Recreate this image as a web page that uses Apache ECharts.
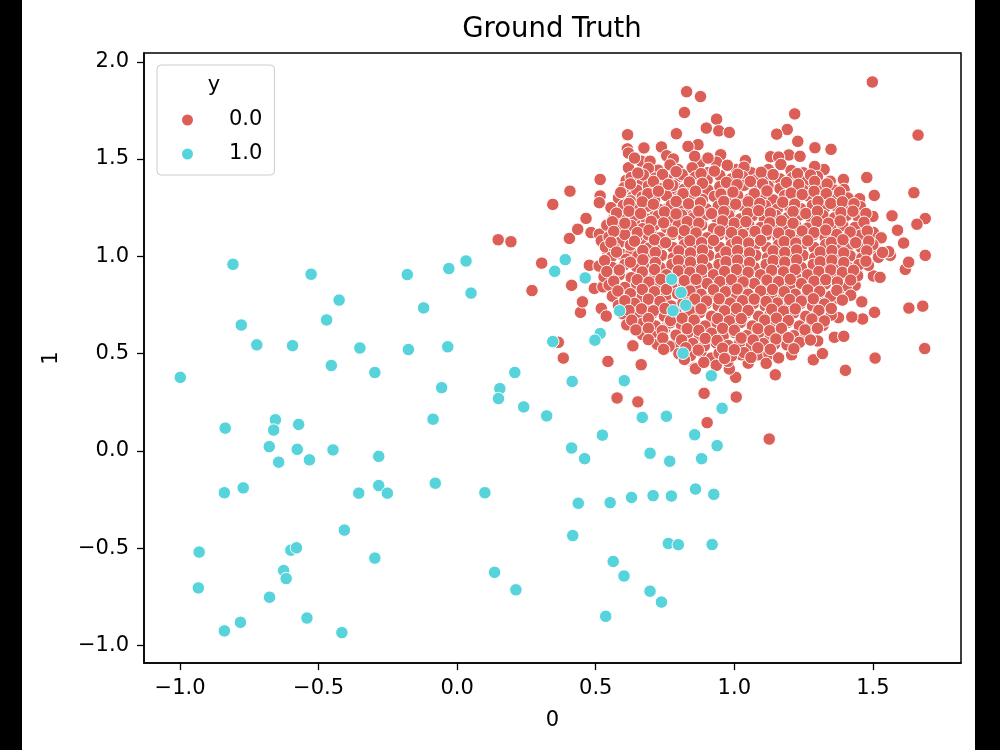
<!DOCTYPE html>
<html>
<head>
<meta charset="utf-8">
<script src="https://cdn.jsdelivr.net/npm/echarts@6/dist/echarts.min.js"></script>
<style>html,body{margin:0;padding:0;background:#fff}#c{width:1000px;height:750px}</style>
</head>
<body>
<div id="c"></div>
<script>
const categories = ['0.0', '1.0'];
const xTicks = [-1.0, -0.5, 0.0, 0.5, 1.0, 1.5];
const yTicks = [-1.0, -0.5, 0.0, 0.5, 1.0, 1.5, 2.0];

const class0Points = [
[0.148,1.085],[0.194,1.075],[0.270,0.824],[0.305,0.965],[0.345,1.267],[0.407,1.335],[0.413,0.851],[0.405,1.092],[0.435,1.139],[0.465,1.195],[0.483,1.122],[0.513,1.114],[0.516,1.395],[0.516,1.310],[0.513,1.276],[0.365,0.558],[0.383,0.477],[0.544,0.460],[0.634,0.540],[0.664,0.443],[0.577,0.272],[0.652,0.252],[0.445,0.712],[0.452,0.766],[0.520,0.732],[0.538,0.693],[0.857,0.426],
[0.891,0.296],[1.007,0.277],[0.902,0.145],[1.126,0.061],[1.005,0.378],[1.148,0.391],[1.401,0.414],[1.508,0.477],[1.687,0.526],[1.630,0.734],[1.680,0.744],[1.506,0.712],[1.463,0.678],[1.424,0.688],[1.285,0.468],[1.318,0.500],[1.361,0.584],[1.395,0.589],[1.301,0.565],[1.207,0.494],[0.860,0.422],[0.982,0.421],[1.050,0.451],[1.086,0.494],[1.617,0.933],[1.629,0.970],[1.689,1.005],[1.502,0.899],[1.526,0.892],[1.484,0.954],[1.563,1.005],[1.436,0.851],[1.382,0.835],[1.376,0.783],[1.460,0.766],
[1.498,1.896],[1.663,1.623],[1.648,1.327],[1.689,1.194],[1.659,1.165],[1.569,1.208],[1.589,1.134],[1.611,1.068],[1.478,1.405],[1.505,1.313],[1.452,1.296],[1.394,1.395],[1.396,1.344],[1.346,1.386],[1.324,1.446],[1.349,1.550],[1.291,1.558],[1.218,1.732],[1.191,1.652],[1.153,1.628],[1.229,1.591],[1.197,1.521],[1.237,1.514],[1.131,1.512],[1.249,1.429],[1.270,1.352],[1.472,1.148],[1.502,1.122],[1.557,1.024],[1.506,1.037],
[0.878,1.821],[0.936,1.705],[0.944,1.645],[0.982,1.637],[0.899,1.659],[0.951,1.522],[0.936,1.484],[0.875,1.480],[0.869,1.574],[1.008,1.446],[1.062,1.429],[1.123,1.446],[1.135,1.403],
[0.828,1.846],[0.820,1.739],[0.791,1.630],[0.615,1.625],[0.614,1.552],[0.618,1.531],[0.674,1.557],[0.737,1.562],[0.756,1.517],[0.664,1.489],[0.696,1.489],[0.618,1.455],[0.725,1.443],[0.797,1.446],[0.803,1.412],[0.833,1.565],[0.857,1.514],[0.610,1.390],[0.640,1.378],[0.661,1.369],[0.731,1.395],[0.791,1.352],[0.821,1.310],[0.634,1.306],[0.700,1.318],[0.746,1.327],[0.582,1.236],[0.604,1.199],[0.640,1.182],[0.520,1.080],[0.544,1.020],[0.586,1.071],[0.592,1.011],[0.628,1.020],[0.664,1.080],[0.712,1.063],[0.755,1.097],[0.700,1.122],[0.712,1.208],[0.749,1.241],[0.785,1.190],[0.833,1.225],[0.712,1.292],[0.773,1.327],[0.833,1.292],[0.845,1.395],[0.869,1.344],
[0.477,0.954],[0.495,0.835],[0.526,0.843],[0.785,0.543],[0.749,0.628],[0.917,0.477],[0.977,0.460],[1.025,0.494],[0.880,0.511],[0.843,0.578],[1.145,0.548],[1.376,0.685],[0.640,1.505],[0.780,1.500],[0.905,1.505],[1.040,1.492],[1.160,1.510],
[0.690,1.452],[0.768,1.470],[0.848,1.455],[0.905,1.430],[0.975,1.468],[1.035,1.458],[1.168,1.472],[1.205,1.441],[1.290,1.462],
[0.628,1.405],[0.672,1.418],[0.715,1.402],[0.758,1.395],[0.812,1.420],[0.860,1.408],[0.902,1.392],[0.948,1.415],[0.990,1.398],[1.030,1.410],[1.078,1.392],[1.118,1.412],[1.165,1.398],[1.210,1.405],[1.255,1.390],[1.300,1.410],
[0.602,1.352],[0.648,1.340],[0.690,1.362],[0.735,1.348],[0.778,1.365],[0.820,1.345],[0.865,1.362],[0.905,1.340],[0.948,1.358],[0.992,1.345],[1.035,1.365],[1.080,1.342],[1.122,1.360],[1.165,1.348],[1.205,1.366],[1.248,1.340],[1.315,1.355],[1.360,1.340],
[0.582,1.300],[0.625,1.285],[0.668,1.305],[0.712,1.290],[0.755,1.312],[0.798,1.296],[0.842,1.310],[0.885,1.292],[0.928,1.308],[0.970,1.290],[1.012,1.312],[1.055,1.295],[1.098,1.306],[1.140,1.290],[1.182,1.312],[1.225,1.298],[1.268,1.310],[1.310,1.292],[1.352,1.305],[1.410,1.300],
[0.555,1.250],[0.600,1.262],[0.645,1.245],[0.688,1.258],[0.730,1.240],[0.772,1.262],[0.815,1.248],[0.858,1.262],[0.900,1.243],[0.942,1.258],[0.985,1.245],[1.028,1.262],[1.070,1.248],[1.112,1.260],[1.155,1.242],[1.198,1.258],[1.240,1.245],[1.282,1.262],[1.325,1.248],[1.368,1.258],[1.410,1.245],[1.455,1.255],
[0.565,1.195],[0.640,1.210],[0.682,1.192],[0.725,1.208],[0.768,1.195],[0.810,1.212],[0.852,1.198],[0.895,1.212],[0.938,1.195],[0.980,1.210],[1.022,1.192],[1.065,1.208],[1.108,1.195],[1.150,1.210],[1.192,1.198],[1.235,1.212],[1.278,1.195],[1.320,1.210],[1.362,1.198],[1.405,1.210],[1.448,1.200],[1.500,1.205],
[0.540,1.160],[0.585,1.145],[0.628,1.158],[0.670,1.142],[0.712,1.160],[0.755,1.148],[0.798,1.162],[0.840,1.145],[0.882,1.160],[0.925,1.142],[0.968,1.158],[1.010,1.145],[1.052,1.162],[1.095,1.148],[1.138,1.160],[1.180,1.142],[1.222,1.158],[1.265,1.145],[1.308,1.160],[1.350,1.142],[1.392,1.158],[1.435,1.148],
[0.548,1.100],[0.605,1.112],[0.648,1.098],[0.690,1.110],[0.732,1.095],[0.775,1.112],[0.818,1.098],[0.860,1.110],[0.902,1.095],[0.945,1.112],[0.988,1.098],[1.030,1.112],[1.072,1.095],[1.115,1.110],[1.158,1.098],[1.200,1.112],[1.242,1.095],[1.285,1.110],[1.328,1.098],[1.370,1.112],[1.412,1.095],[1.455,1.108],[1.530,1.095],
[0.535,1.048],[0.568,1.040],[0.625,1.058],[0.690,1.042],[0.735,1.058],[0.778,1.045],[0.820,1.060],[0.862,1.042],[0.905,1.058],[0.948,1.045],[0.990,1.060],[1.032,1.042],[1.075,1.058],[1.118,1.045],[1.160,1.060],[1.202,1.042],[1.245,1.058],[1.288,1.045],[1.330,1.060],[1.372,1.042],[1.415,1.058],[1.458,1.045],[1.500,1.060],
[0.555,0.995],[0.610,0.985],[0.652,1.002],[0.695,0.990],[0.738,1.005],[0.780,0.992],[0.822,1.008],[0.865,0.990],[0.908,1.005],[0.950,0.992],[0.992,1.008],[1.035,0.990],[1.078,1.005],[1.120,0.992],[1.162,1.008],[1.205,0.990],[1.248,1.005],[1.290,0.992],[1.332,1.008],[1.375,0.990],[1.418,1.002],[1.460,0.990],[1.520,0.995],
[0.512,0.950],[0.560,0.942],[0.605,0.958],[0.648,0.945],[0.690,0.960],[0.732,0.942],[0.775,0.958],[0.818,0.945],[0.860,0.960],[0.902,0.942],[0.945,0.958],[0.988,0.945],[1.030,0.960],[1.072,0.942],[1.115,0.958],[1.158,0.945],[1.200,0.960],[1.242,0.942],[1.285,0.958],[1.328,0.945],[1.370,0.960],[1.412,0.942],[1.450,0.958],
[0.530,0.895],[0.585,0.905],[0.628,0.890],[0.670,0.908],[0.712,0.892],[0.755,0.905],[0.798,0.890],[0.840,0.908],[0.882,0.892],[0.925,0.905],[0.968,0.890],[1.010,0.908],[1.052,0.892],[1.095,0.905],[1.138,0.890],[1.180,0.908],[1.222,0.892],[1.265,0.905],[1.308,0.890],[1.350,0.908],[1.395,0.892],[1.445,0.900],
[0.548,0.852],[0.605,0.840],[0.648,0.858],[0.690,0.845],[0.732,0.860],[0.775,0.842],[0.818,0.858],[0.860,0.845],[0.902,0.860],[0.945,0.842],[0.988,0.858],[1.030,0.845],[1.072,0.860],[1.115,0.842],[1.158,0.858],[1.200,0.845],[1.242,0.860],[1.285,0.842],[1.328,0.858],[1.405,0.850],
[0.560,0.795],[0.625,0.808],[0.668,0.792],[0.710,0.805],[0.752,0.790],[0.795,0.808],[0.838,0.792],[0.880,0.805],[0.922,0.790],[0.965,0.808],[1.008,0.792],[1.050,0.805],[1.092,0.790],[1.135,0.808],[1.178,0.792],[1.220,0.805],[1.262,0.790],[1.305,0.808],[1.348,0.795],[1.420,0.800],
[0.582,0.748],[0.640,0.758],[0.688,0.742],[0.730,0.758],[0.772,0.745],[0.815,0.760],[0.858,0.742],[0.900,0.758],[0.942,0.745],[0.985,0.760],[1.028,0.742],[1.070,0.758],[1.112,0.745],[1.155,0.760],[1.198,0.742],[1.240,0.758],[1.282,0.745],[1.325,0.755],
[0.598,0.705],[0.652,0.695],[0.705,0.708],[0.748,0.692],[0.790,0.708],[0.832,0.695],[0.875,0.710],[0.918,0.692],[0.960,0.708],[1.002,0.695],[1.045,0.710],[1.088,0.692],[1.130,0.708],[1.172,0.695],[1.215,0.710],[1.258,0.692],[1.300,0.705],[1.350,0.698],
[0.612,0.648],[0.668,0.655],[0.715,0.642],[0.768,0.658],[0.810,0.645],[0.852,0.660],[0.895,0.642],[0.938,0.658],[0.980,0.645],[1.022,0.660],[1.065,0.642],[1.108,0.658],[1.150,0.645],[1.192,0.660],[1.235,0.642],[1.278,0.655],[1.320,0.645],
[0.668,0.598],[0.712,0.588],[0.790,0.595],[0.832,0.608],[0.875,0.592],[0.918,0.605],[0.960,0.590],[1.002,0.608],[1.045,0.592],[1.088,0.605],[1.130,0.590],[1.172,0.608],[1.215,0.592],[1.258,0.605],
[0.722,0.548],[0.765,0.538],[0.850,0.552],[0.892,0.540],[0.935,0.555],[0.978,0.542],[1.020,0.558],[1.062,0.540],[1.105,0.552],[1.190,0.545],[1.235,0.558],
[0.800,0.500],[0.842,0.490],[0.945,0.502],[0.990,0.488],[1.035,0.505],[1.125,0.498],[1.160,0.478],
[0.890,0.455],[0.935,0.440],[1.115,0.450],
[0.652,1.428],[0.741,1.421],[0.790,1.435],[0.880,1.425],[0.928,1.438],[1.012,1.422],[1.097,1.432],[1.140,1.420],[1.228,1.425],[1.275,1.418],
[0.625,1.372],[0.708,1.385],[0.762,1.370],[0.838,1.382],[0.885,1.375],[0.972,1.380],[1.010,1.368],[1.058,1.385],[1.102,1.372],[1.188,1.380],[1.232,1.370],[1.290,1.385],[1.335,1.372],
[0.590,1.328],[0.688,1.322],[0.726,1.335],[0.815,1.322],[0.860,1.335],[0.952,1.320],[0.995,1.330],[1.072,1.322],[1.118,1.336],[1.205,1.325],[1.245,1.318],[1.288,1.334],[1.332,1.322],[1.380,1.330],
[0.620,1.272],[0.668,1.280],[0.708,1.268],[0.790,1.282],[0.835,1.270],[0.878,1.276],[0.962,1.282],[1.005,1.268],[1.050,1.280],[1.092,1.272],[1.175,1.278],[1.218,1.268],[1.302,1.282],[1.348,1.272],[1.390,1.280],[1.432,1.270],
[0.575,1.222],[0.620,1.232],[0.662,1.220],[0.748,1.228],[0.790,1.218],[0.872,1.232],[0.918,1.220],[0.962,1.230],[1.048,1.222],[1.088,1.235],[1.130,1.222],[1.212,1.230],[1.258,1.220],[1.300,1.232],[1.385,1.225],[1.428,1.232],[1.475,1.220],
[0.560,1.178],[0.605,1.170],[0.700,1.180],[0.745,1.172],[0.830,1.178],[0.872,1.170],[0.958,1.182],[1.000,1.170],[1.042,1.178],[1.128,1.172],[1.170,1.182],[1.212,1.170],[1.298,1.178],[1.340,1.170],[1.382,1.182],[1.468,1.175],
[0.565,1.128],[0.650,1.122],[0.692,1.135],[0.778,1.125],[0.820,1.132],[0.862,1.120],[0.948,1.130],[0.990,1.122],[1.075,1.128],[1.118,1.135],[1.160,1.120],[1.245,1.130],[1.288,1.122],[1.330,1.135],[1.418,1.125],[1.480,1.130],
[0.555,1.072],[0.640,1.078],[0.712,1.085],[0.752,1.070],[0.840,1.080],[0.882,1.070],[0.925,1.082],[1.010,1.075],[1.052,1.068],[1.095,1.082],[1.180,1.075],[1.222,1.068],[1.265,1.080],[1.350,1.072],[1.392,1.085],[1.438,1.070],[1.485,1.078],
[0.575,1.022],[0.670,1.030],[0.715,1.020],[0.800,1.028],[0.842,1.018],[0.885,1.032],[0.970,1.022],[1.012,1.030],[1.055,1.018],[1.140,1.028],[1.182,1.020],[1.225,1.032],[1.310,1.022],[1.352,1.030],[1.395,1.018],[1.478,1.028],[1.535,1.020],
[0.532,0.978],[0.625,0.970],[0.670,0.982],[0.715,0.968],[0.798,0.978],[0.842,0.970],[0.885,0.982],[0.970,0.972],[1.012,0.980],[1.055,0.968],[1.140,0.978],[1.182,0.970],[1.225,0.982],[1.310,0.972],[1.352,0.980],[1.395,0.968],[1.475,0.975],
[0.540,0.922],[0.585,0.930],[0.668,0.920],[0.712,0.932],[0.798,0.925],[0.840,0.918],[0.882,0.930],[0.965,0.922],[1.008,0.932],[1.050,0.918],[1.135,0.928],[1.178,0.920],[1.220,0.932],[1.305,0.922],[1.348,0.930],[1.390,0.918],[1.430,0.928],
[0.565,0.872],[0.650,0.880],[0.692,0.868],[0.735,0.882],[0.820,0.875],[0.862,0.882],[0.948,0.870],[0.990,0.880],[1.032,0.868],[1.118,0.878],[1.160,0.870],[1.202,0.882],[1.288,0.872],[1.330,0.880],[1.372,0.868],[1.420,0.878],
[0.580,0.822],[0.668,0.830],[0.712,0.818],[0.755,0.830],[0.840,0.822],[0.925,0.828],[0.968,0.818],[1.010,0.832],[1.095,0.822],[1.138,0.830],[1.180,0.818],[1.265,0.828],[1.308,0.820],[1.370,0.825],
[0.605,0.772],[0.690,0.780],[0.732,0.768],[0.858,0.780],[0.900,0.770],[0.945,0.782],[1.030,0.772],[1.072,0.780],[1.115,0.768],[1.200,0.778],[1.242,0.770],[1.285,0.782],[1.390,0.775],
[0.620,0.722],[0.665,0.730],[0.708,0.720],[0.750,0.732],[0.838,0.722],[0.880,0.730],[0.965,0.720],[1.008,0.732],[1.050,0.722],[1.135,0.728],[1.178,0.718],[1.220,0.730],[1.305,0.722],[1.350,0.732],
[0.630,0.672],[0.690,0.680],[0.770,0.670],[0.812,0.682],[0.855,0.672],[0.940,0.680],[0.982,0.668],[1.025,0.680],[1.110,0.672],[1.152,0.682],[1.195,0.670],[1.280,0.678],[1.325,0.668],
[0.645,0.622],[0.690,0.630],[0.740,0.618],[0.830,0.628],[0.872,0.620],[0.958,0.630],[1.000,0.620],[1.085,0.628],[1.128,0.618],[1.170,0.630],[1.255,0.622],[1.300,0.630],
[0.690,0.572],[0.742,0.580],[0.810,0.570],[0.895,0.578],[0.938,0.568],[1.025,0.580],[1.068,0.570],[1.150,0.575],[1.195,0.582],[1.275,0.570],
[0.745,0.522],[0.825,0.530],[0.870,0.518],[0.958,0.528],[1.000,0.520],[1.085,0.530],[1.130,0.522],[1.215,0.525],
[0.820,0.470],[0.965,0.475],[1.060,0.480]
];

const class1Points = [
[-0.809,0.959],[-0.527,0.908],[-0.180,0.906],[-0.426,0.775],[-0.121,0.735],[-0.471,0.673],[-0.779,0.647],[-0.723,0.545],[-0.594,0.541],[-0.351,0.529],[-0.176,0.521],[-0.454,0.439],[-0.297,0.403],[-0.999,0.378],[-0.656,0.160],[-0.837,0.117],[-0.662,0.107],[-0.572,0.136],[-0.678,0.022],[-0.577,0.008],[-0.448,0.005],[-0.283,-0.028],[-0.644,-0.058],[-0.533,-0.046],
[-0.840,-0.215],[-0.772,-0.190],[-0.355,-0.217],[-0.283,-0.178],[-0.252,-0.217],[-0.407,-0.407],[-0.931,-0.520],[-0.600,-0.510],[-0.580,-0.498],[-0.297,-0.551],[-0.626,-0.615],[-0.617,-0.656],[-0.934,-0.704],[-0.677,-0.752],[-0.542,-0.859],[-0.782,-0.881],[-0.840,-0.925],[-0.416,-0.934],
[-0.030,0.937],[0.032,0.976],[0.050,0.811],[0.390,0.983],[0.352,0.923],[0.462,0.889],[0.586,0.720],[0.774,0.882],[0.808,0.814],[0.825,0.749],[0.779,0.720],[0.815,0.502],[-0.034,0.535],[0.345,0.562],[0.516,0.603],[0.497,0.569],[0.208,0.403],[-0.056,0.325],[0.154,0.320],[0.149,0.269],[0.415,0.357],[0.603,0.361],[0.240,0.226],[0.323,0.180],[-0.087,0.163],[0.668,0.172],[0.755,0.178],[0.524,0.081],[0.857,0.083],[0.413,0.015],[0.460,-0.040],[0.696,-0.012],[0.767,-0.053],[0.882,-0.040],
[-0.079,-0.166],[0.100,-0.215],[0.437,-0.269],[0.552,-0.266],[0.629,-0.239],[0.707,-0.230],[0.773,-0.232],[0.860,-0.196],[0.926,-0.223],[0.920,-0.481],[0.417,-0.435],[0.762,-0.476],[0.798,-0.482],[0.135,-0.624],[0.563,-0.568],[0.602,-0.643],[0.212,-0.714],[0.696,-0.721],[0.737,-0.777],[0.536,-0.850],
[0.917,0.386],[0.956,0.219],[0.938,0.027]
];

const colors = ['#db5f57', '#57d3db'];
const FONT = 'DejaVu Sans';
const fmt = v => (v < 0 ? '\u2212' : '') + Math.abs(v).toFixed(1);

const chart = echarts.init(document.getElementById('c'), null, {renderer: 'canvas'});
chart.setOption({
  animation: false,
  backgroundColor: '#ffffff',
  textStyle: {fontFamily: FONT},
  title: [
    {text: 'Ground Truth', left: 552, top: 16, textAlign: 'center', padding: 0,
     textStyle: {fontFamily: FONT, fontSize: 27.5, fontWeight: 'normal', color: '#000'}},
    {text: 'y', left: 214, top: 75, textAlign: 'center', padding: 0, z: 10,
     textStyle: {fontFamily: FONT, fontSize: 21, fontWeight: 'normal', color: '#000'}}
  ],
  legend: {
    data: categories,
    orient: 'vertical',
    left: 157, top: 65,
    padding: [43, 12, 9, 23],
    itemGap: 10,
    itemWidth: 13, itemHeight: 13,
    icon: 'circle',
    backgroundColor: 'rgba(255,255,255,0.8)',
    borderColor: '#cccccc', borderWidth: 1, borderRadius: 4,
    textStyle: {fontFamily: FONT, fontSize: 21, color: '#000', lineHeight: 24, padding: [0, 0, 0, 30]}
  },
  grid: {left: 144, top: 53, right: 39, bottom: 87, show: true, borderColor: '#000', borderWidth: 1.5, backgroundColor: 'transparent'},
  xAxis: {
    type: 'value', min: -1.13, max: 1.818,
    name: '0', nameLocation: 'middle', nameGap: 47,
    nameTextStyle: {fontFamily: FONT, fontSize: 21, color: '#000'},
    axisLine: {show: true, onZero: false, lineStyle: {color: '#000', width: 1.5}},
    axisTick: {show: true, length: 7, lineStyle: {color: '#000', width: 1.3}, customValues: xTicks},
    axisLabel: {show: true, margin: 15, fontFamily: FONT, fontSize: 21, color: '#000', customValues: xTicks, formatter: fmt},
    splitLine: {show: false}
  },
  yAxis: {
    type: 'value', min: -1.09, max: 2.045,
    name: '1', nameLocation: 'middle', nameGap: 82, nameRotate: 90,
    nameTextStyle: {fontFamily: FONT, fontSize: 21, color: '#000'},
    axisLine: {show: true, onZero: false, lineStyle: {color: '#000', width: 1.5}},
    axisTick: {show: true, length: 7, lineStyle: {color: '#000', width: 1.3}, customValues: yTicks},
    axisLabel: {show: true, margin: 15, fontFamily: FONT, fontSize: 21, color: '#000', customValues: yTicks, formatter: fmt},
    splitLine: {show: false}
  },
  graphic: [
    {type: 'rect', left: 0, top: 0, z: 100, shape: {width: 22, height: 750}, style: {fill: '#000'}},
    {type: 'rect', left: 975, top: 0, z: 100, shape: {width: 25, height: 750}, style: {fill: '#000'}}
  ],
  series: [
    {name: categories[0], type: 'scatter', data: class0Points, symbolSize: 12.5,
     itemStyle: {color: colors[0], borderColor: '#ffffff', borderWidth: 1, opacity: 1}},
    {name: categories[1], type: 'scatter', data: class1Points, symbolSize: 12.5,
     itemStyle: {color: colors[1], borderColor: '#ffffff', borderWidth: 1, opacity: 1}}
  ]
});
</script>
</body>
</html>
